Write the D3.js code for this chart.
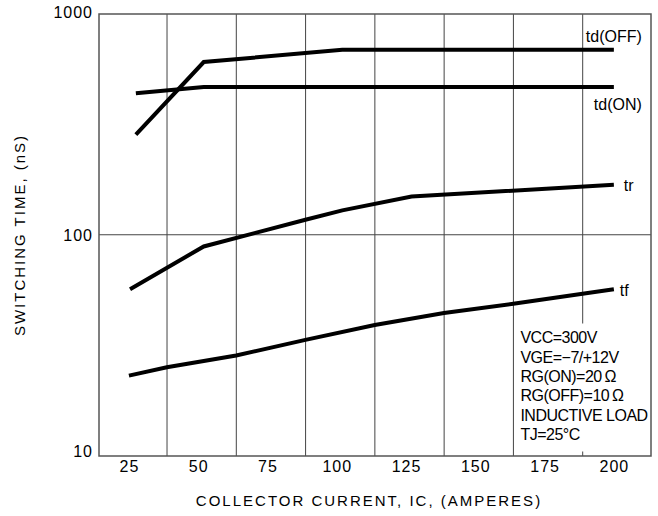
<!DOCTYPE html>
<meta charset="utf-8">
<style>
  body { margin: 0; background: #fff; }
  text { font-family: "Liberation Sans", Arial, sans-serif; fill: #000; }
</style>
<script src="https://d3js.org/d3.v7.min.js"></script>
<div id="chart"></div>
<script>

// x values (collector current, A) and switching times (nS)
var tdOffX = [27.5, 52, 102, 200];
var tdOffY = [284, 606, 688, 688];
var tdOnX = [27.5, 52, 200];
var tdOnY = [438, 467, 467];
var trX = [25.4, 52, 88.7, 102, 127, 200];
var trY = [56.7, 88.5, 117, 129, 149, 168.5];
var tfX = [25, 38.7, 63.7, 88.7, 113.7, 138.7, 163.7, 188.7, 200];
var tfY = [23.0, 25.1, 28.4, 33.4, 39, 44.2, 48.7, 54, 56.7];

var xTickValues = [25, 50, 75, 100, 125, 150, 175, 200];
var xGridValues = [38.75, 63.75, 88.75, 113.75, 138.75, 163.75, 188.75];
var yTickValues = [10, 100, 1000];
var notes = ["VCC=300V", "VGE=\u22127/+12V", "RG(ON)=20\u2009\u03a9", "RG(OFF)=10\u2009\u03a9", "INDUCTIVE LOAD", "TJ=25\u00b0C"];

var series = [
  {name: "td(OFF)", x: tdOffX, y: tdOffY, dx: -28, dy: -13},
  {name: "td(ON)", x: tdOnX, y: tdOnY, dx: -20, dy: 17},
  {name: "tr", x: trX, y: trY, dx: 10, dy: 1},
  {name: "tf", x: tfX, y: tfY, dx: 6, dy: 1}
];

// plot frame
var margin = {top: 14, right: 7, bottom: 60, left: 99},
    width = 658 - margin.left - margin.right,
    height = 516 - margin.top - margin.bottom;

var svg = d3.select("#chart")
  .append("svg")
    .attr("width", 658)
    .attr("height", 516)
  .append("g")
    .attr("transform", "translate(" + margin.left + "," + margin.top + ")");

var x = d3.scaleLinear()
  .domain([14.2, 213.4])
  .range([0, width]);

var y = d3.scaleLog()
  .domain([10, 1000])
  .range([height - 0.5, 0]);

// vertical grid lines
svg.append("g")
  .selectAll("line")
  .data(xGridValues)
  .enter()
  .append("line")
    .attr("x1", function(d) { return x(d) })
    .attr("x2", function(d) { return x(d) })
    .attr("y1", 0)
    .attr("y2", height)
    .attr("stroke", "#444")
    .attr("stroke-width", 1);

// horizontal grid line at 100
svg.append("line")
  .attr("x1", 0).attr("x2", width)
  .attr("y1", y(100)).attr("y2", y(100))
  .attr("stroke", "#444")
  .attr("stroke-width", 1);

// curves
var line = d3.line()
  .x(function(d) { return x(d[0]) })
  .y(function(d) { return y(d[1]) });

series.forEach(function(s) {
  var pts = s.x.map(function(v, i) { return [v, s.y[i]] });
  svg.append("path")
    .datum(pts)
    .attr("d", line)
    .attr("fill", "none")
    .attr("stroke", "#000")
    .attr("stroke-width", 4);
  var last = pts[pts.length - 1];
  svg.append("text")
    .attr("x", x(last[0]) + s.dx)
    .attr("y", y(last[1]) + s.dy)
    .attr("dy", "0.35em")
    .style("font-size", "16px")
    .text(s.name);
});

// conditions box
var box = svg.append("g")
  .attr("transform", "translate(" + (x(163.75) + 3) + "," + (y(10) - 132) + ")");
box.append("rect")
  .attr("width", width - x(163.75) - 4)
  .attr("height", 128)
  .attr("fill", "#fff");
box.selectAll("text")
  .data(notes)
  .enter()
  .append("text")
    .attr("x", 4)
    .attr("y", function(d, i) { return 14 + i * 19.4 })
    .attr("dy", "0.35em")
    .style("font-size", "16px")
    .style("letter-spacing", "-0.5px")
    .text(function(d) { return d });

// frame
svg.append("rect")
  .attr("width", width)
  .attr("height", height)
  .attr("fill", "none")
  .attr("stroke", "#555")
  .attr("stroke-width", 1.5);

// x tick labels
svg.append("g")
  .attr("transform", "translate(0," + height + ")")
  .call(d3.axisBottom(x).tickValues(xTickValues).tickSize(0).tickPadding(5))
  .call(function(g) { g.select(".domain").remove() })
  .selectAll("text")
    .style("font-family", "Liberation Sans")
    .style("font-size", "16px")
    .style("letter-spacing", "1px");

// y tick labels
svg.append("g")
  .call(d3.axisLeft(y).tickValues(yTickValues).tickFormat(d3.format("d")).tickSize(0).tickPadding(6))
  .call(function(g) { g.select(".domain").remove() })
  .selectAll("text")
    .style("font-family", "Liberation Sans")
    .style("font-size", "16px")
    .style("letter-spacing", "1px")
    .attr("dy", function(d) { return d == 10 ? "0.05em" : d == 1000 ? "0.2em" : "0.35em" });

// axis titles
svg.append("text")
  .attr("x", width / 2 - 6)
  .attr("y", height + 50)
  .attr("text-anchor", "middle")
  .style("font-size", "15px")
  .style("letter-spacing", "2px")
  .text("COLLECTOR  CURRENT,  IC,  (AMPERES)");

svg.append("text")
  .attr("transform", "translate(-74," + (height / 2) + ") rotate(-90)")
  .attr("text-anchor", "middle")
  .style("font-size", "15px")
  .style("letter-spacing", "2px")
  .text("SWITCHING  TIME,  (nS)");

</script>
